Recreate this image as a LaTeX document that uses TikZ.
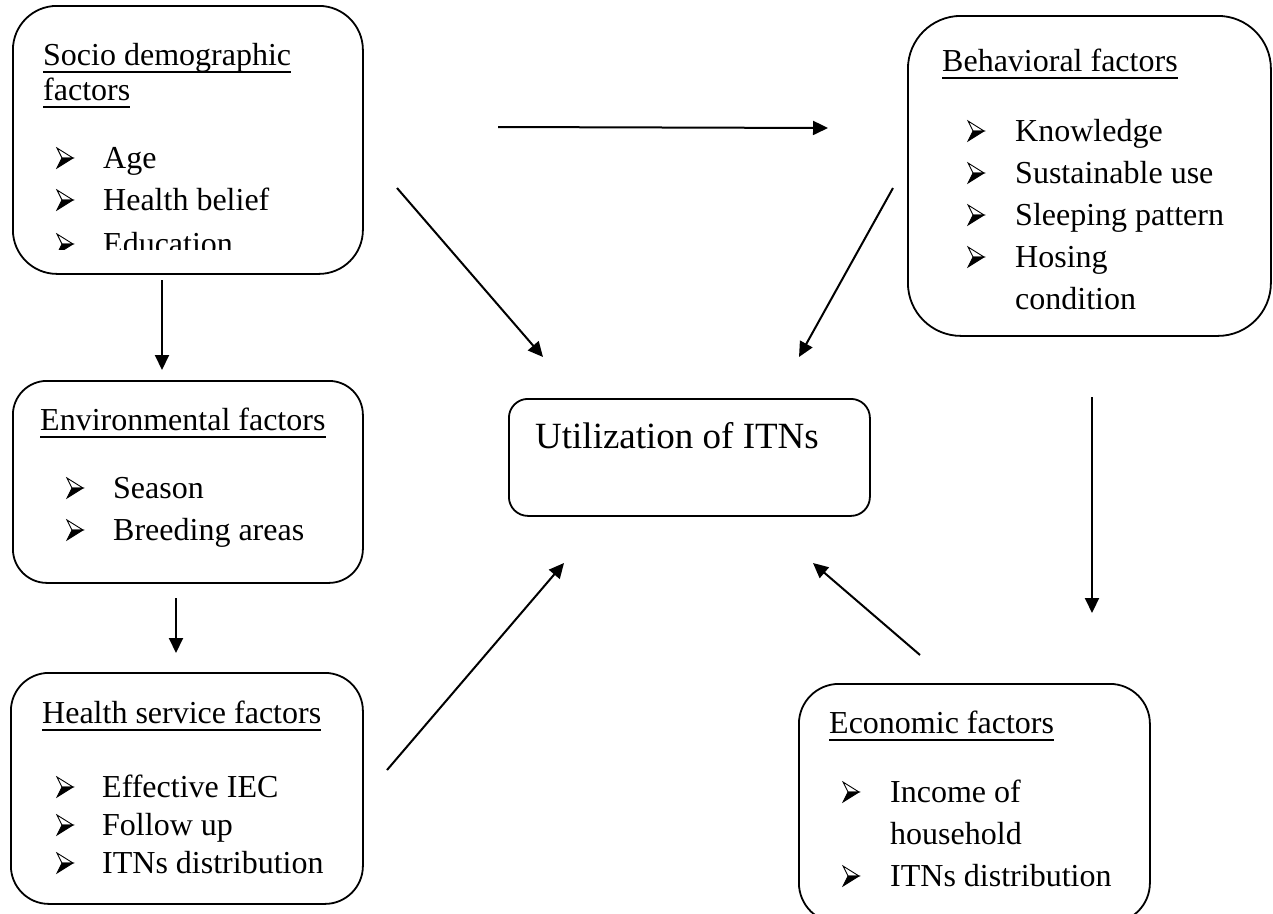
\documentclass[tikz,border=0pt]{standalone}
\usepackage{fontspec}
\setmainfont{Liberation Serif}
\usetikzlibrary{arrows.meta}
\begin{document}
\begin{tikzpicture}[x=1pt,y=-1pt,
  box/.style={draw, line width=1.8pt, inner sep=0pt, anchor=north west},
  txt/.style={anchor=base west, inner sep=0pt, font=\fontsize{32}{38}\selectfont},
  bigtxt/.style={anchor=base west, inner sep=0pt, font=\fontsize{37}{44}\selectfont},
  uline/.style={line width=1.6pt},
  arr/.style={line width=2pt, -{Triangle[length=15pt,width=14pt]}},
  arrowbullet/.pic={
    \filldraw[fill=white, line width=0.9pt, line join=miter] (0,-20) -- (16,-10) -- (5,-10) -- cycle;
    \filldraw[fill=black, line width=0.9pt, line join=miter] (5,-10) -- (16,-10) -- (0,0) -- cycle;
  }]
\useasboundingbox (0,0) rectangle (1273,913);
\clip (0,0) rectangle (1273,913);
\fill[white] (0,0) rectangle (1273,913);

% boxes
\node[box, minimum width=350pt, minimum height=268pt, rounded corners=44pt] (socio) at (12,5) {};
\node[box, minimum width=363pt, minimum height=320pt, rounded corners=53pt] (behav) at (907,15) {};
\node[box, minimum width=350pt, minimum height=202pt, rounded corners=34pt] (env) at (12,380) {};
\node[box, minimum width=352pt, minimum height=231pt, rounded corners=38pt] (health) at (10,672) {};
\node[box, minimum width=351pt, minimum height=239pt, rounded corners=40pt] (econ) at (798,683) {};
\node[box, minimum width=361pt, minimum height=117pt, rounded corners=19pt] (util) at (508,398) {};

% socio demographic
\node[txt] (s1) at (43,65) {Socio demographic};
\node[txt] (s2) at (43,100) {factors};
\draw[uline] ([yshift=-7pt]s1.base west) -- ([yshift=-7pt]s1.base east);
\draw[uline] ([yshift=-7pt]s2.base west) -- ([yshift=-7pt]s2.base east);
\pic at (57,168) {arrowbullet};
\node[txt] (st1) at (103,168) {Age};
\pic at (57,210) {arrowbullet};
\node[txt] (st2) at (103,210) {Health belief};
\begin{scope}
\clip (12,5) rectangle (362,249);
\pic at (57,254) {arrowbullet};
\node[txt] (st3) at (103,254) {Education};
\end{scope}

% behavioral
\node[txt] (b0) at (942,71) {Behavioral factors};
\draw[uline] ([yshift=-7pt]b0.base west) -- ([yshift=-7pt]b0.base east);
\pic at (968,141) {arrowbullet};
\node[txt] (bt1) at (1015,141) {Knowledge};
\pic at (968,183) {arrowbullet};
\node[txt] (bt2) at (1015,183) {Sustainable use};
\pic at (968,225) {arrowbullet};
\node[txt] (bt3) at (1015,225) {Sleeping pattern};
\pic at (968,267) {arrowbullet};
\node[txt] (bt4) at (1015,267) {Hosing};
\node[txt] (bt5) at (1015,309) {condition};

% environmental
\node[txt] (e0) at (40,430) {Environmental factors};
\draw[uline] ([yshift=-7pt]e0.base west) -- ([yshift=-7pt]e0.base east);
\pic at (67,498) {arrowbullet};
\node[txt] (et1) at (113,498) {Season};
\pic at (67,540) {arrowbullet};
\node[txt] (et2) at (113,540) {Breeding areas};

% health service
\node[txt] (h0) at (42,723) {Health service factors};
\draw[uline] ([yshift=-7pt]h0.base west) -- ([yshift=-7pt]h0.base east);
\pic at (57,797) {arrowbullet};
\node[txt] (ht1) at (102,797) {Effective IEC};
\pic at (57,835) {arrowbullet};
\node[txt] (ht2) at (102,835) {Follow up};
\pic at (57,873) {arrowbullet};
\node[txt] (ht3) at (102,873) {ITNs distribution};

% economic
\node[txt] (c0) at (829,733) {Economic factors};
\draw[uline] ([yshift=-7pt]c0.base west) -- ([yshift=-7pt]c0.base east);
\pic at (843,802) {arrowbullet};
\node[txt] (ct1) at (890,802) {Income of};
\node[txt] (ct2) at (890,844) {household};
\pic at (843,886) {arrowbullet};
\node[txt] (ct3) at (890,886) {ITNs distribution};

% utilization
\node[bigtxt] (u0) at (535,448) {Utilization of ITNs};

% connector end points
\coordinate (a1s) at (162,280); \coordinate (a1e) at (162,370);
\coordinate (a2s) at (176,598); \coordinate (a2e) at (176,653);
\coordinate (a3s) at (387,770); \coordinate (a3e) at (564,563);
\coordinate (a4s) at (397,188); \coordinate (a4e) at (543,357);
\coordinate (a5s) at (498,127); \coordinate (a5e) at (828,128);
\coordinate (a6s) at (893,188); \coordinate (a6e) at (799,357);
\coordinate (a7s) at (1092,397); \coordinate (a7e) at (1092,613);
\coordinate (a8s) at (920,655); \coordinate (a8e) at (813,563);

\draw[arr] (a1s) -- (a1e);
\draw[arr] (a2s) -- (a2e);
\draw[arr] (a3s) -- (a3e);
\draw[arr] (a4s) -- (a4e);
\draw[arr] (a5s) -- (a5e);
\draw[arr] (a6s) -- (a6e);
\draw[arr] (a7s) -- (a7e);
\draw[arr] (a8s) -- (a8e);
\end{tikzpicture}
\end{document}
